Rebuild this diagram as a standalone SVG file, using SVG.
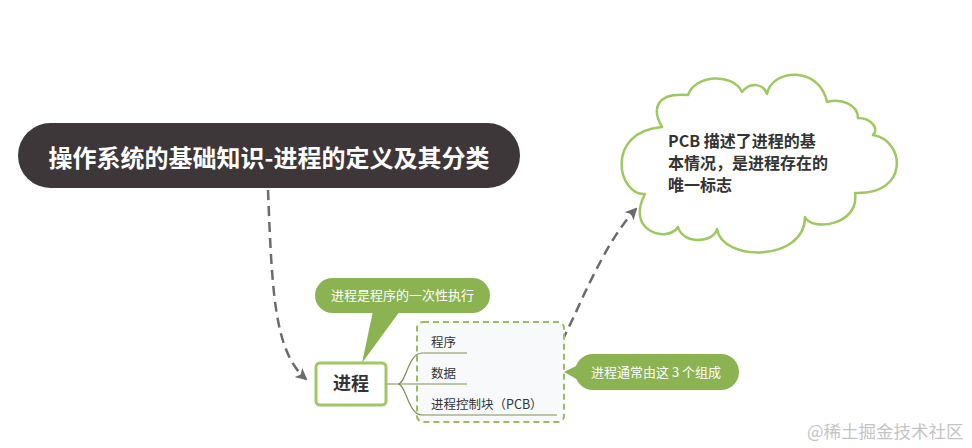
<svg xmlns="http://www.w3.org/2000/svg" width="972" height="448" viewBox="0 0 972 448">
<style>
.cjk{font-family:"Noto Sans CJK SC","Liberation Sans",sans-serif;}
.conn{fill:none;stroke:#6b6b6b;stroke-width:2.5;stroke-dasharray:10 6;}
.branch{fill:none;stroke:#7f8f52;stroke-width:1.2;}
.callout{fill:#8cb352;}
.lbl{font-size:12.5px;fill:#333;}
.ctext{font-size:13px;fill:#fff;}
</style>
<defs>
<marker id="arr" viewBox="0 0 12 12" refX="10" refY="6" markerWidth="12" markerHeight="12" markerUnits="userSpaceOnUse" orient="auto">
<path d="M0,0 L12,6 L0,12 L3,6 z" fill="#6b6b6b"/>
</marker>
</defs>
<rect width="972" height="448" fill="#fff"/>

<g id="connectors">
<path class="conn" d="M268,190 C 272,290 274,352 306,379" marker-end="url(#arr)"/>
<path class="conn" d="M524,392 C 556,365 572,318 590,282 C 604,254 618,228 636,209" marker-end="url(#arr)"/>
</g>

<g id="title">
<rect x="18" y="123" width="502" height="65" rx="32.5" fill="#3d3739"/>
<text class="cjk" x="269" y="167" font-size="24" font-weight="bold" fill="#fff" text-anchor="middle">操作系统的基础知识-进程的定义及其分类</text>
</g>

<g id="cloud">
<path d="M645,194 C618,196 604,132 662,127 C652,110 655,92 688,95 C695,75 732,72 742,92 C750,82 763,83 767,94 C772,68 820,66 827,102 C842,98 858,105 858,118 C870,118 880,128 873,135 C905,140 910,195 855,193 C860,225 812,232 805,217 C805,262 722,262 717,229 C714,243 683,245 678,227 C668,243 625,232 645,194 Z" fill="#fff" stroke="#9dc862" stroke-width="2.5" stroke-linejoin="round"/>
<text class="cjk" font-size="16" font-weight="bold" fill="#333"><tspan x="668" y="147">PCB 描述了进程的基</tspan><tspan x="668" y="169">本情况，是进程存在的</tspan><tspan x="668" y="191">唯一标志</tspan></text>
</g>

<g id="callout-def">
<rect class="callout" x="315" y="278" width="175" height="35" rx="17.5"/>
<polygon class="callout" points="362,363 373,311 400,311"/>
<text class="cjk ctext" x="331" y="300">进程是程序的一次性执行</text>
</g>

<g id="parts-box">
<rect x="417" y="322" width="147" height="100" rx="6" fill="#f7f9fb" stroke="#9dbb62" stroke-width="2" stroke-dasharray="6 4"/>
</g>

<g id="branches">
<path class="branch" d="M386,384 L398,384 C406,384 408,353 422,353 L467,353"/>
<path class="branch" d="M398,384 L467,384"/>
<path class="branch" d="M398,384 C406,384 408,415 422,415 L557,415"/>
</g>

<g id="node-process">
<rect x="316" y="363" width="70" height="42" rx="4" fill="#fff" stroke="#9dc862" stroke-width="3"/>
<text class="cjk" x="351" y="390" font-size="18" font-weight="bold" fill="#333" text-anchor="middle">进程</text>
</g>

<g id="label-program"><text class="cjk lbl" x="431" y="347">程序</text></g>
<g id="label-data"><text class="cjk lbl" x="431" y="378">数据</text></g>
<g id="label-pcb"><text class="cjk lbl" x="431" y="409">进程控制块（PCB）</text></g>

<g id="callout-parts">
<rect class="callout" x="575" y="354" width="164" height="36" rx="18"/>
<polygon class="callout" points="564,372 580,364 580,381"/>
<text class="cjk ctext" x="591" y="377">进程通常由这 3 个组成</text>
</g>

<text class="cjk" x="807" y="438" font-size="17.5" fill="#c4c4c4">@稀土掘金技术社区</text>
</svg>
